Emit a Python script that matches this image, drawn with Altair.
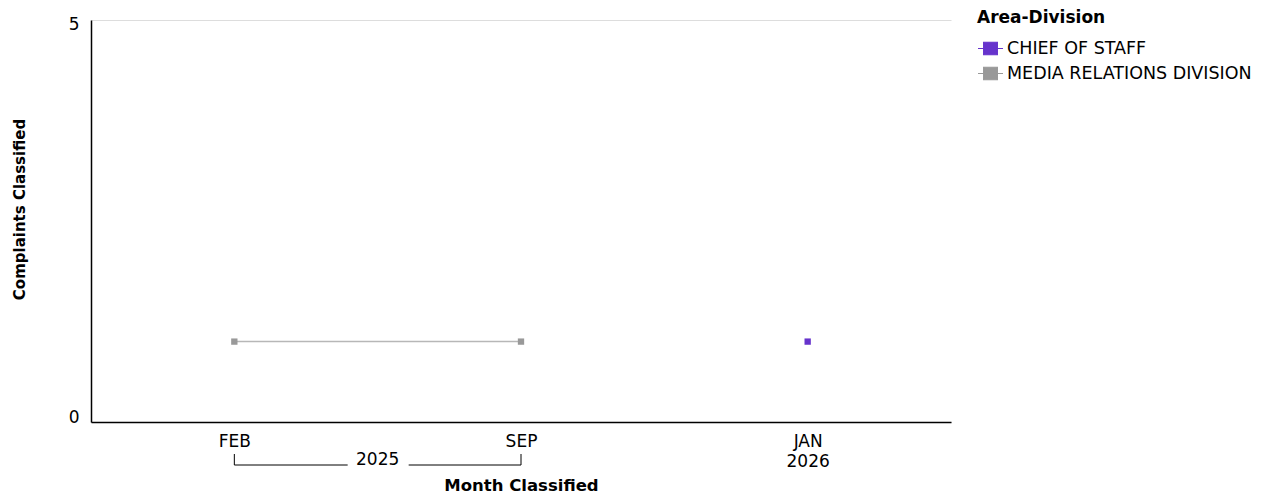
import altair as alt
import pandas as pd

# ---- data ----
month_keys = ["2025-02", "2025-09", "2026-01"]
month_names = ["FEB", "SEP", "JAN"]
month_years = ["2025", "2025", "2026"]

divisions = ["MEDIA RELATIONS DIVISION", "MEDIA RELATIONS DIVISION", "CHIEF OF STAFF"]
row_months = ["2025-02", "2025-09", "2026-01"]
counts = [1, 1, 1]

legend_domain = ["CHIEF OF STAFF", "MEDIA RELATIONS DIVISION"]
legend_colors = ["#6633CC", "#999999"]

# year groups spanning several months get a bracket
bracket_years = ["2025"]
bracket_start = ["2025-02"]
bracket_end = ["2025-09"]

df = pd.DataFrame({"division": divisions, "month": row_months, "count": counts})
br = pd.DataFrame({"year": bracket_years, "start": bracket_start, "end": bracket_end})

# label expression: single-month years show the year under the month
year_count = {y: month_years.count(y) for y in month_years}
parts = []
for k, n, y in zip(month_keys, month_names, month_years):
    if year_count[y] == 1:
        parts.append(f"datum.value == '{k}' ? ['{n}', '{y}']")
    else:
        parts.append(f"datum.value == '{k}' ? '{n}'")
label_expr = " : ".join(parts) + " : datum.value"

FONT = "DejaVu Sans"
W, H = 860, 402
step = W / len(month_keys)

x_scale = alt.Scale(type="point", domain=month_keys, padding=0.5)
xenc = alt.X(
    "month:O",
    scale=x_scale,
    sort=month_keys,
    title="Month Classified",
    axis=alt.Axis(
        labelExpr=label_expr,
        labelAngle=0,
        labelFontSize=17,
        labelLineHeight=20,
        labelPadding=11,
        labelColor="#000",
        ticks=False,
        domainColor="#000",
        domainWidth=1.5,
        titleFontSize=16.5,
        titleFontWeight="bold",
        titleColor="#000",
        titleBaseline="alphabetic",
        titleY=68,
    ),
)
yenc = alt.Y(
    "count:Q",
    scale=alt.Scale(domain=[0, 5], nice=False),
    title="Complaints Classified",
    axis=alt.Axis(
        values=[0, 5],
        labelFontSize=17,
        labelPadding=12,
        labelColor="#000",
        labelFlush=True,
        labelFlushOffset=4,
        ticks=False,
        grid=True,
        gridColor="#dddddd",
        domainColor="#000",
        domainWidth=1.5,
        titleFontSize=15,
        titleFontWeight="bold",
        titleColor="#000",
        titleBaseline="middle",
        titleX=-72,
        titleY=189,
    ),
)

sym_path = "M-1,0H1M-0.55,-0.5H0.55V0.5H-0.55Z"
legend = alt.Legend(
    title="Area-Division",
    orient="none",
    legendX=886,
    legendY=-10,
    titleFontSize=17,
    titleFontWeight="bold",
    titleColor="#000",
    titlePadding=8,
    labelFontSize=17.5,
    labelColor="#000",
    labelOffset=3,
    labelLimit=400,
    symbolType=sym_path,
    symbolSize=625,
    symbolStrokeWidth=1.2,
    symbolOpacity=1,
    rowPadding=2,
    padding=0,
)
color = alt.Color(
    "division:N",
    scale=alt.Scale(domain=legend_domain, range=legend_colors),
    legend=legend,
)

base = alt.Chart(df)
line = base.mark_line(strokeWidth=1.5, opacity=0.7).encode(x=xenc, y=yenc, color=color, detail="division:N")
pts = base.mark_point(shape="square", filled=True, size=40, opacity=1).encode(x=xenc, y=yenc, color=color)

bbase = alt.Chart(br)
seg_left = bbase.mark_rule(color="#000", strokeWidth=1, x2Offset=-(step / 2 + 30)).encode(
    x=alt.X("start:O", scale=x_scale), x2="end:O", y=alt.value(445)
)
seg_right = bbase.mark_rule(color="#000", strokeWidth=1, xOffset=step / 2 + 31).encode(
    x=alt.X("start:O", scale=x_scale), x2="end:O", y=alt.value(445)
)
tick_l = bbase.mark_rule(color="#000", strokeWidth=1).encode(
    x=alt.X("start:O", scale=x_scale), y=alt.value(434), y2=alt.value(445)
)
tick_r = bbase.mark_rule(color="#000", strokeWidth=1).encode(
    x=alt.X("end:O", scale=x_scale), y=alt.value(434), y2=alt.value(445)
)
ytext = bbase.mark_text(fontSize=17, color="#000", baseline="middle", align="center", xOffset=step / 2).encode(
    x=alt.X("start:O", scale=x_scale), y=alt.value(440), text="year:N"
)

chart = (
    alt.layer(line, pts, seg_left, seg_right, tick_l, tick_r, ytext)
    .properties(
        width=W,
        height=H,
        autosize=alt.AutoSizeParams(type="none"),
        padding={"left": 83, "top": 12, "right": 306, "bottom": 72},
    )
    .configure(font=FONT)
    .configure_view(strokeWidth=0, stroke="transparent")
)

chart.save("out.html", embed_options={"renderer": "svg", "actions": False})
